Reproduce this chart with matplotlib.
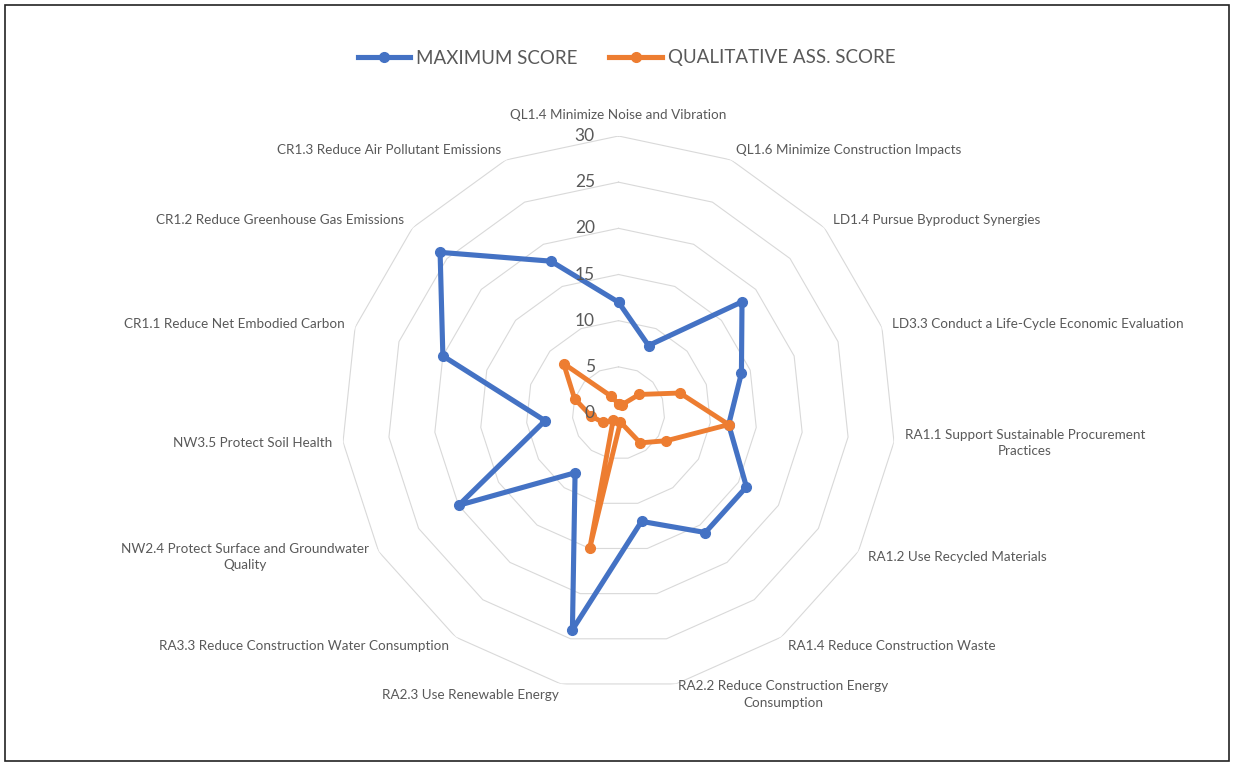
import numpy as np
import matplotlib
matplotlib.use("Agg")
import matplotlib.pyplot as plt
from matplotlib.patches import Rectangle
from matplotlib.lines import Line2D

plt.rcParams['font.family'] = ['Lato', 'DejaVu Sans']

categories = [
    "QL1.4 Minimize Noise and Vibration",
    "QL1.6 Minimize Construction Impacts",
    "LD1.4 Pursue Byproduct Synergies",
    "LD3.3 Conduct a Life-Cycle Economic Evaluation",
    "RA1.1 Support Sustainable Procurement\nPractices",
    "RA1.2 Use Recycled Materials",
    "RA1.4 Reduce Construction Waste",
    "RA2.2 Reduce Construction Energy\nConsumption",
    "RA2.3 Use Renewable Energy",
    "RA3.3 Reduce Construction Water Consumption",
    "NW2.4 Protect Surface and Groundwater\nQuality",
    "NW3.5 Protect Soil Health",
    "CR1.1 Reduce Net Embodied Carbon",
    "CR1.2 Reduce Greenhouse Gas Emissions",
    "CR1.3 Reduce Air Pollutant Emissions",
]
max_score = [12, 8, 18, 14, 12, 16, 16, 12, 24, 8, 20, 8, 20, 26, 18]
qual_score = [1, 1, 3, 7, 12, 6, 4, 1, 15, 1, 2, 3, 5, 8, 2]
rings = [0, 5, 10, 15, 20, 25, 30]

blue = '#4472C4'
orange = '#ED7D31'
text_col = '#595959'
grid_col = '#D9D9D9'

W, H = 1233, 763
fig = plt.figure(figsize=(W / 100, H / 100), dpi=100)

# polar axes placed so the chart centre / radius match the reference
cx, cy, R = 618.5, 413, 277
ax = fig.add_axes([(cx - R) / W, (H - cy - R) / H, 2 * R / W, 2 * R / H],
                  projection='polar')
ax.set_theta_zero_location('N')
ax.set_theta_direction(-1)
ax.set_ylim(0, 30)
ax.axis('off')

n = len(categories)
theta = np.arange(n) * 2 * np.pi / n
theta_c = np.append(theta, theta[0])

# polygon grid rings
for v in rings[1:]:
    ax.plot(theta_c, [v] * (n + 1), color=grid_col, lw=0.8, zorder=1)

# series
ax.plot(theta_c, max_score + max_score[:1], color=blue, lw=3.7,
        marker='o', ms=7, zorder=3, solid_joinstyle='round')
ax.plot(theta_c, qual_score + qual_score[:1], color=orange, lw=3.5,
        marker='o', ms=7, zorder=4, solid_joinstyle='round')

# radial tick labels
for v in rings:
    ax.annotate(str(v), xy=(0, v), xytext=(-17, 0), textcoords='offset points',
                ha='right', va='center', fontsize=12.5, color=text_col, zorder=6)

# category labels
r_lab = 288 / R * 30
for t, lab in zip(theta, categories):
    deg = np.degrees(t)
    if deg == 0:
        ax.text(t, 298 / R * 30, lab, ha='center', va='center',
                fontsize=9.7, color=text_col)
    elif deg < 180:
        ax.text(t, r_lab, lab, ha='left', va='center', multialignment='center',
                fontsize=9.7, color=text_col, linespacing=1.45)
    else:
        ax.text(t, r_lab, lab, ha='right', va='center', multialignment='center',
                fontsize=9.7, color=text_col, linespacing=1.45)

# legend
handles = [
    Line2D([], [], color=blue, lw=3.7, marker='o', ms=7),
    Line2D([], [], color=orange, lw=3.7, marker='o', ms=7),
]
leg = fig.legend(handles, ["MAXIMUM SCORE", "QUALITATIVE ASS. SCORE"],
                 loc='center', bbox_to_anchor=(626.5 / W, 1 - 58 / H), ncol=2,
                 frameon=False, fontsize=13.5, handlelength=2.8,
                 handletextpad=0.3, columnspacing=1.7, markerfirst=True)
for txt in leg.get_texts():
    txt.set_color(text_col)

# outer frame
fig.patches.append(Rectangle((5 / W, 2 / H), 1224 / W, 756 / H,
                             transform=fig.transFigure, fill=False,
                             ec='#222222', lw=1.2))

fig.savefig('out.png', dpi=100)
